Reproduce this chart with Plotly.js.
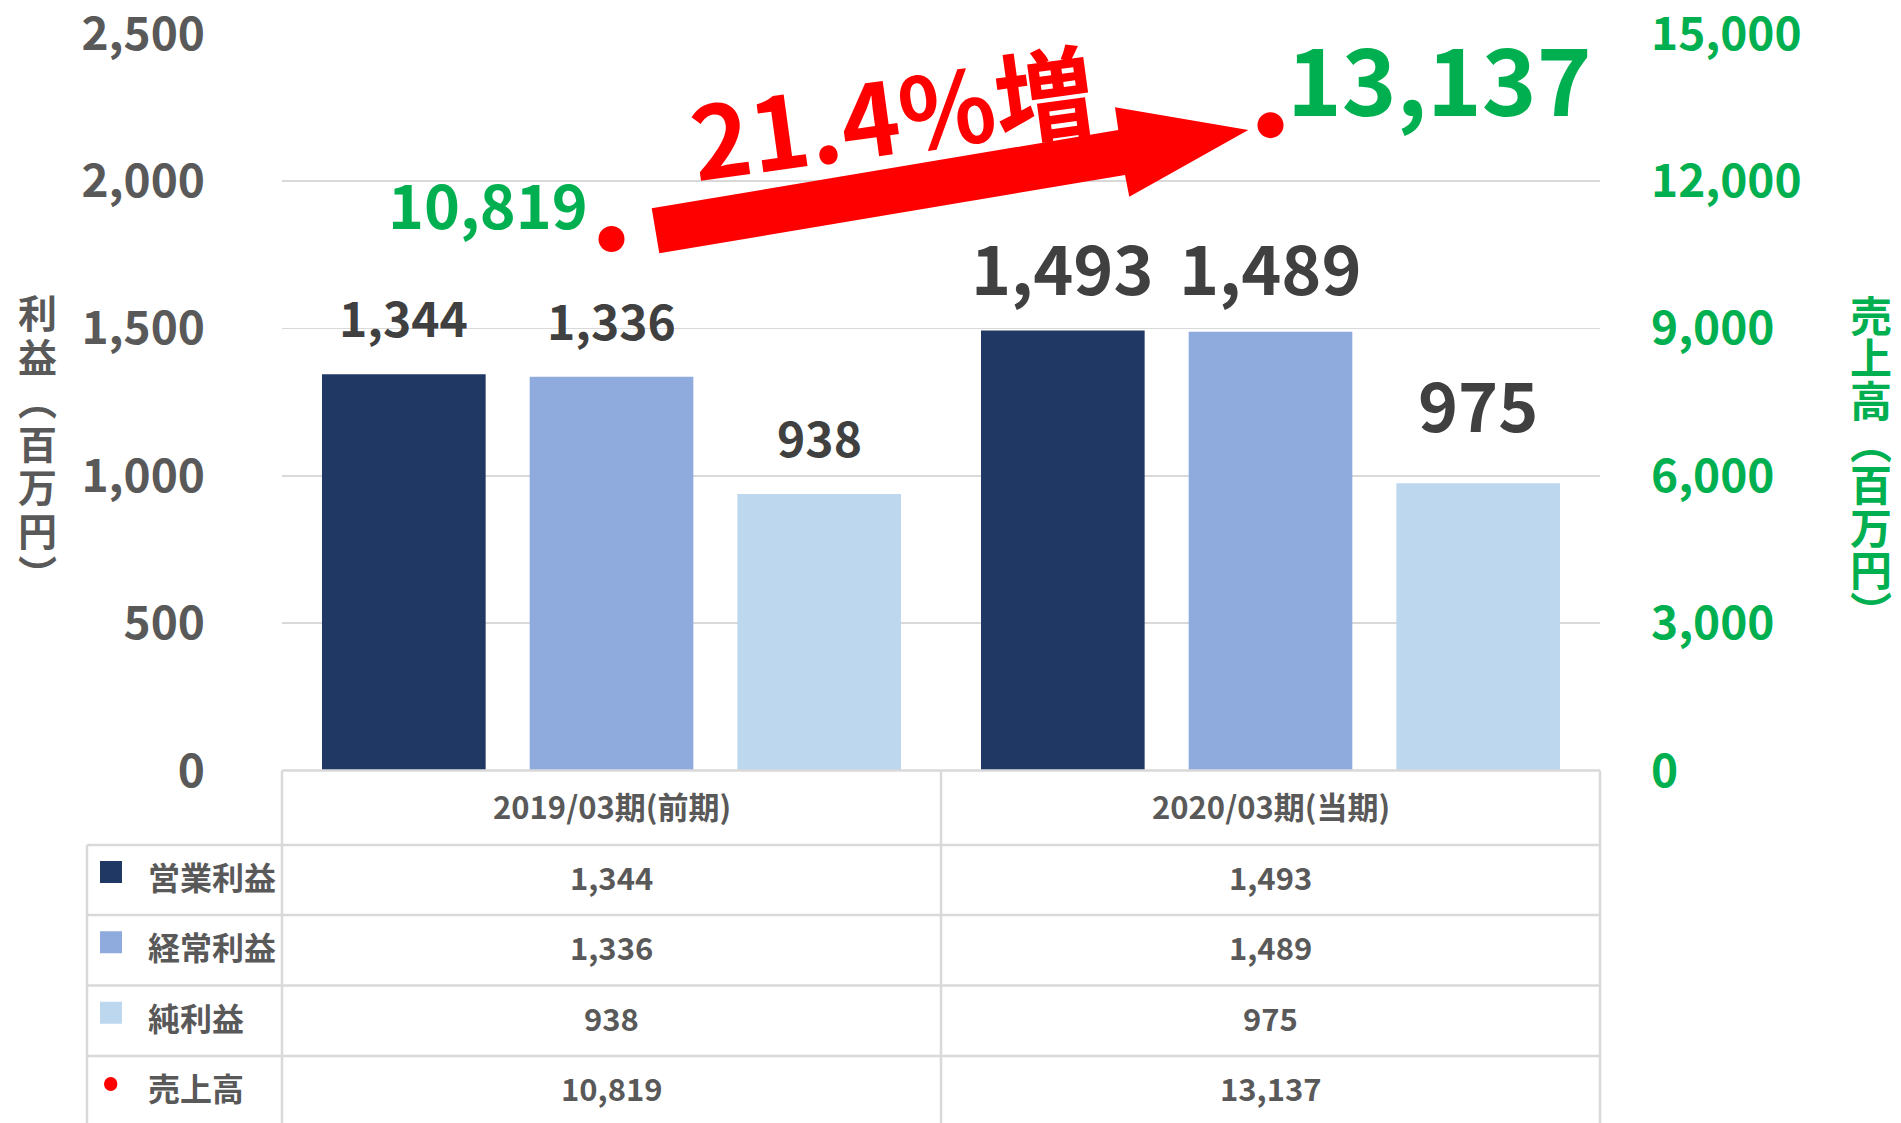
<!DOCTYPE html>
<html>
<head>
<meta charset="utf-8">
<script src="https://cdn.plot.ly/plotly-3.0.1.min.js"></script>
<style>html,body{margin:0;padding:0;background:#fff;overflow:hidden}</style>
</head>
<body>
<div id="chart" style="width:1901px;height:1123px"></div>
<script>
// ---------- data ----------
const categories = ['2019/03期(前期)', '2020/03期(当期)'];
const operatingProfit = [1344, 1493];
const ordinaryProfit = [1336, 1489];
const netProfit = [938, 975];
const sales = [10819, 13137];
const seriesNames = ['営業利益', '経常利益', '純利益', '売上高'];
const growthLabel = '21.4%増';
const leftTitleChars = ['利', '益', '︵', '百', '万', '円', '︶'];
const rightTitleChars = ['売', '上', '高', '︵', '百', '万', '円', '︶'];
const leftTicks = [0, 500, 1000, 1500, 2000, 2500];
const rightTicks = [0, 3000, 6000, 9000, 12000, 15000];

// ---------- style / layout constants ----------
const W = 1901, H = 1123;
const FONT = '"Noto Sans CJK JP", "Noto Sans", sans-serif';
const GRAY = '#595959', DARK = '#404040', GREEN = '#00B050', RED = '#FF0000', LINE = '#D9D9D9';
const barColors = ['#203864', '#8FAADC', '#BDD7EE'];
const px = x => x / W;
const py = y => 1 - y / H;

const plotL = 282, plotR = 1600, plotT = 33.5, plotB = 770.5;
const tableL = 87, colDiv = 941;
const rowLines = [845, 915, 985.5, 1056, 1126];
const headerMid = 808;
const slot = 0.3152;               // group slot width in category units
const labelFont = [48, 68];        // bar label size per category
const labelLift = [[58, 58, 58], [65, 66, 81]];

const fmt = v => v.toLocaleString('en-US');
const barSeries = [operatingProfit, ordinaryProfit, netProfit];
const vertical = (chars, size) => chars.map(c => '<span style="font-size:' + size + 'px">' + c + '</span>').join('<br>');

// ---------- traces ----------
const traces = barSeries.map((vals, i) => ({
  type: 'bar', x: categories, y: vals, name: seriesNames[i],
  marker: {color: barColors[i], line: {width: 0}}, hoverinfo: 'skip'
}));
traces.push({
  type: 'scatter', mode: 'markers', x: categories, y: sales, yaxis: 'y2',
  name: seriesNames[3], marker: {color: RED, size: 26}, cliponaxis: false, hoverinfo: 'skip'
});

// ---------- annotations ----------
const annotations = [];
barSeries.forEach((vals, s) => vals.forEach((v, c) => {
  annotations.push({
    xref: 'x', yref: 'y', x: c + (s - 1) * slot, y: v, text: fmt(v), showarrow: false,
    xanchor: 'center', yanchor: 'middle', yshift: labelLift[c][s],
    font: {family: FONT, size: labelFont[c], color: DARK, weight: 'bold'}
  });
}));
// sales labels
annotations.push({
  xref: 'x', yref: 'y2', x: categories[0], y: sales[0], text: fmt(sales[0]), showarrow: false,
  xanchor: 'right', yanchor: 'middle', xshift: -22, yshift: 37,
  font: {family: FONT, size: 61, color: GREEN, weight: 'bold'}
});
annotations.push({
  xref: 'x', yref: 'y2', x: categories[1], y: sales[1], text: fmt(sales[1]), showarrow: false,
  xanchor: 'left', yanchor: 'middle', xshift: 14, yshift: 50,
  font: {family: FONT, size: 93, color: GREEN, weight: 'bold'}
});
// growth label
annotations.push({
  xref: 'paper', yref: 'paper', x: px(892), y: py(111), text: growthLabel, showarrow: false,
  xanchor: 'center', yanchor: 'middle', textangle: -7.8,
  font: {family: FONT, size: 100, color: RED, weight: 'bold'}
});
// axis titles (vertical, upright characters)
annotations.push({
  xref: 'paper', yref: 'paper', x: px(37), y: py(442), text: vertical(leftTitleChars, 39), showarrow: false,
  xanchor: 'center', yanchor: 'middle', align: 'center',
  font: {family: FONT, size: 43.5 / 1.3, color: GRAY, weight: 'bold'}
});
annotations.push({
  xref: 'paper', yref: 'paper', x: px(1871), y: py(461), text: vertical(rightTitleChars, 42), showarrow: false,
  xanchor: 'center', yanchor: 'middle', align: 'center',
  font: {family: FONT, size: 42.3 / 1.3, color: GREEN, weight: 'bold'}
});
// data table: header
categories.forEach((cat, c) => annotations.push({
  xref: 'x', yref: 'paper', x: cat, y: py(headerMid - 3), text: cat, showarrow: false,
  xanchor: 'center', yanchor: 'middle', font: {family: FONT, size: 31, color: GRAY, weight: 'bold'}
}));
// data table: rows
const tableRows = [operatingProfit, ordinaryProfit, netProfit, sales];
tableRows.forEach((vals, r) => {
  const mid = (rowLines[r] + rowLines[r + 1]) / 2;
  annotations.push({
    xref: 'paper', yref: 'paper', x: px(146), y: py(mid - 4), text: seriesNames[r], showarrow: false,
    xanchor: 'left', yanchor: 'middle', font: {family: FONT, size: 32, color: GRAY, weight: 'bold'}
  });
  vals.forEach((v, c) => annotations.push({
    xref: 'x', yref: 'paper', x: categories[c], y: py(mid - 3.5), text: fmt(v), showarrow: false,
    xanchor: 'center', yanchor: 'middle', font: {family: FONT, size: 31, color: GRAY, weight: 'bold'}
  }));
});

// ---------- shapes ----------
const shapes = [];
const hline = (y, x0, x1) => shapes.push({type: 'line', xref: 'paper', yref: 'paper',
  x0: px(x0), x1: px(x1), y0: py(y), y1: py(y), line: {color: LINE, width: 2.5}});
const vline = (x, y0, y1) => shapes.push({type: 'line', xref: 'paper', yref: 'paper',
  x0: px(x), x1: px(x), y0: py(y0), y1: py(y1), line: {color: LINE, width: 2.5}});
hline(plotB, plotL, plotR);
rowLines.slice(0, 4).forEach(y => hline(y, tableL, plotR));
vline(tableL, rowLines[0], H);
[plotL, colDiv, plotR].forEach(x => vline(x, plotB, H));
// legend keys in table
barColors.forEach((col, r) => {
  const mid = (rowLines[r] + rowLines[r + 1]) / 2;
  shapes.push({type: 'rect', xref: 'paper', yref: 'paper', x0: px(100), x1: px(122),
    y0: py(mid - 19), y1: py(mid + 3), fillcolor: col, line: {width: 0}});
});
{
  const mid = (rowLines[3] + rowLines[4]) / 2;
  shapes.push({type: 'circle', xref: 'paper', yref: 'paper', x0: px(104), x1: px(117.4),
    y0: py(mid - 14), y1: py(mid), fillcolor: RED, line: {width: 0}});
}
// growth arrow
const arrowPts = [[651.7, 208.3], [1118.3, 130], [1115, 107.3], [1248.3, 130],
                  [1129.3, 196.7], [1125, 175], [659.3, 253.3]];
shapes.push({type: 'path', xref: 'paper', yref: 'paper',
  path: 'M ' + arrowPts.map(p => px(p[0]) + ' ' + py(p[1])).join(' L ') + ' Z',
  fillcolor: RED, line: {width: 0}});

// ---------- layout ----------
const layout = {
  width: W, height: H, margin: {l: 0, r: 0, t: 0, b: 0, pad: 0},
  paper_bgcolor: '#ffffff', plot_bgcolor: '#ffffff', showlegend: false,
  barmode: 'group', bargap: 0.0546, bargroupgap: 0.212,
  font: {family: FONT, color: GRAY},
  xaxis: {domain: [px(plotL), px(plotR)], type: 'category', range: [-0.5, 1.5], fixedrange: true,
    showticklabels: false, showgrid: false, zeroline: false, showline: false, ticks: '', automargin: false},
  yaxis: {domain: [py(plotB), py(plotT)], range: [0, 2500.5], tickvals: leftTicks, tickformat: ',',
    showgrid: true, gridcolor: LINE, gridwidth: 1.5, zeroline: false, showline: false, ticks: '',
    ticklabelstandoff: 76, ticklabeloverflow: 'allow', automargin: false,
    tickfont: {family: FONT, size: 46, color: GRAY, weight: 'bold'}},
  yaxis2: {overlaying: 'y', side: 'right', range: [0, 15003], tickvals: rightTicks, tickformat: ',',
    showgrid: false, zeroline: false, showline: false, ticks: '', ticklabelstandoff: 50,
    ticklabeloverflow: 'allow', automargin: false,
    tickfont: {family: FONT, size: 46, color: GREEN, weight: 'bold'}},
  shapes: shapes,
  annotations: annotations
};

Plotly.newPlot('chart', traces, layout, {displayModeBar: false, staticPlot: true});
</script>
</body>
</html>
